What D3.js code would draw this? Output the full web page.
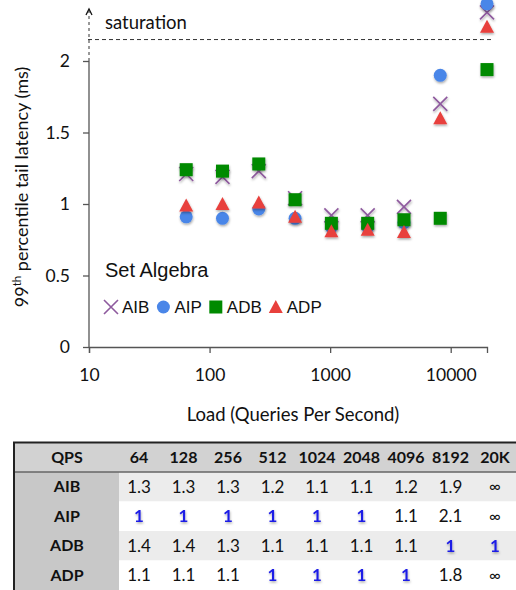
<!DOCTYPE html>
<html>
<head>
<meta charset="utf-8">
<script src="https://cdn.jsdelivr.net/npm/d3@7"></script>
<style>
  body { margin: 0; background: #fff; }
  svg { display: block; font-family: Lato, "Open Sans", sans-serif; }
</style>
</head>
<body>
<div id="chart"></div>
<script>

// data
const qps = [64, 128, 256, 512, 1024, 2048, 4096, 8192, 20000]
const aib = [1.21, 1.19, 1.23, 1.04, 0.92, 0.92, 0.98, 1.70, 2.34]
const aip = [0.91, 0.90, 0.965, 0.90, 0.84, 0.84, 0.87, 1.90, 2.40]
const adb = [1.24, 1.23, 1.28, 1.03, 0.865, 0.865, 0.89, 0.90, 1.94]
const adp = [0.99, 1.00, 1.01, 0.91, 0.81, 0.82, 0.805, 1.60, 2.24]
const saturation = 2.15

const xTicks = [10, 100, 1000, 10000]
const yTicks = [0, 0.5, 1, 1.5, 2]

// table under the chart
const tableCols = ["64", "128", "256", "512", "1024", "2048", "4096", "8192", "20K"]
const tableRows = ["AIB", "AIP", "ADB", "ADP"]
const tableAIB = ["1.3", "1.3", "1.3", "1.2", "1.1", "1.1", "1.2", "1.9", "∞"]
const tableAIP = ["1", "1", "1", "1", "1", "1", "1.1", "2.1", "∞"]
const tableADB = ["1.4", "1.4", "1.3", "1.1", "1.1", "1.1", "1.1", "1", "1"]
const tableADP = ["1.1", "1.1", "1.1", "1", "1", "1", "1", "1.8", "∞"]

const series = [
  {name: "AIB", values: aib, shape: "x", color: "#8e5a9e"},
  {name: "AIP", values: aip, shape: "circle", color: "#4a86e8"},
  {name: "ADB", values: adb, shape: "square", color: "#008a00"},
  {name: "ADP", values: adp, shape: "triangle", color: "#e8403c"}
]

const width = 516, height = 590

const svg = d3.select("#chart").append("svg")
    .attr("width", width)
    .attr("height", height)
    .style("overflow", "visible")

const defs = svg.append("defs")
defs.append("filter").attr("id", "shadow")
    .attr("x", "-50%").attr("y", "-50%").attr("width", "200%").attr("height", "200%")
  .append("feDropShadow")
    .attr("dx", 0.5).attr("dy", 1.5).attr("stdDeviation", 1)
    .attr("flood-color", "#000").attr("flood-opacity", 0.35)

const x = d3.scaleLog()
    .domain([10, 20000])
    .range([89, 487])

const y = d3.scaleLinear()
    .domain([0, 2])
    .range([347, 61])

const axisColor = "#555"

// x axis
const xAxis = d3.axisBottom(x)
    .tickValues(xTicks)
    .tickFormat(d3.format("d"))
    .tickSize(6)
    .tickPadding(16)

const xGroup = svg.append("g")
    .attr("transform", `translate(0, ${y(0)})`)
    .call(xAxis)
xGroup.select(".domain").attr("stroke", axisColor).attr("stroke-width", 1.3)
xGroup.selectAll(".tick line").attr("stroke", axisColor).attr("stroke-width", 1.3)
xGroup.selectAll("text").attr("font-size", 17.5).attr("fill", "#111")
    .attr("font-family", "Lato, sans-serif")

// y axis
const yAxis = d3.axisLeft(y)
    .tickValues(yTicks)
    .tickFormat(d3.format("~g"))
    .tickSize(6)
    .tickPadding(13)

const yGroup = svg.append("g")
    .attr("transform", `translate(${x(10)}, 0)`)
    .call(yAxis)
yGroup.select(".domain").remove()
yGroup.selectAll(".tick line").attr("stroke", axisColor).attr("stroke-width", 1.3)
yGroup.selectAll("text").attr("font-size", 17.5).attr("fill", "#111")
    .attr("font-family", "Lato, sans-serif")

// solid part of the y axis, then dashed arrow above it
svg.append("line")
    .attr("x1", x(10)).attr("x2", x(10))
    .attr("y1", y(0)).attr("y2", y(2))
    .attr("stroke", axisColor).attr("stroke-width", 1.3)

svg.append("line")
    .attr("x1", x(10)).attr("x2", x(10))
    .attr("y1", y(2)).attr("y2", 11)
    .attr("stroke", "#333").attr("stroke-width", 1)
    .attr("stroke-dasharray", "3,3")

svg.append("path")
    .attr("d", `M${x(10) - 3},${15}L${x(10)},${9}L${x(10) + 3},${15}`)
    .attr("fill", "none").attr("stroke", "#111").attr("stroke-width", 1.3)

// saturation line
svg.append("line")
    .attr("x1", x(10) - 1).attr("x2", 493)
    .attr("y1", y(saturation)).attr("y2", y(saturation))
    .attr("stroke", "#333").attr("stroke-width", 1)
    .attr("stroke-dasharray", "4,3")

svg.append("text")
    .attr("x", 105)
    .attr("y", y(saturation) - 11)
    .attr("font-size", 18.5)
    .attr("fill", "#111")
    .text("saturation")

// axis titles
svg.append("text")
    .attr("x", 293)
    .attr("y", 421)
    .attr("text-anchor", "middle")
    .attr("font-size", 18.5)
    .attr("fill", "#111")
    .text("Load (Queries Per Second)")

const yTitle = svg.append("text")
    .attr("transform", "translate(28, 187) rotate(-90)")
    .attr("text-anchor", "middle")
    .attr("font-size", 18)
    .attr("fill", "#111")
yTitle.append("tspan").text("99")
yTitle.append("tspan").attr("font-size", 11.5).attr("dy", -7).text("th")
yTitle.append("tspan").attr("dy", 7).text(" percentile tail latency (ms)")

// marker shapes
function drawMarker(sel, shape, color) {
  if (shape === "x") {
    sel.append("path").attr("d", "M-7,-7L7,7M-7,7L7,-7")
        .attr("stroke", color).attr("stroke-width", 1.6).attr("fill", "none")
  } else if (shape === "circle") {
    sel.append("circle").attr("r", 6.5).attr("fill", color)
  } else if (shape === "square") {
    sel.append("rect").attr("x", -6.5).attr("y", -6.5)
        .attr("width", 13).attr("height", 13).attr("fill", color)
  } else {
    sel.append("path").attr("d", "M0,-7L7,6L-7,6Z").attr("fill", color)
  }
}

// points
series.forEach(s => {
  svg.append("g")
      .attr("class", "series " + s.name)
    .selectAll("g")
    .data(qps.map((q, i) => ({q, v: s.values[i]})))
    .join("g")
      .attr("transform", d => `translate(${x(d.q)}, ${y(d.v)})`)
      .attr("filter", "url(#shadow)")
      .each(function () { drawMarker(d3.select(this), s.shape, s.color) })
})

// legend
svg.append("text")
    .attr("x", 105)
    .attr("y", 277)
    .attr("font-family", "'Liberation Sans', Arial, sans-serif")
    .attr("font-size", 20)
    .attr("fill", "#111")
    .text("Set Algebra")

const legend = svg.append("g").attr("transform", "translate(111, 307)")
let lx = 0
series.forEach(s => {
  const item = legend.append("g").attr("transform", `translate(${lx}, 0)`)
  drawMarker(item.append("g"), s.shape, s.color)
  const t = item.append("text")
      .attr("x", 11)
      .attr("y", 6)
      .attr("font-family", "'Liberation Sans', Arial, sans-serif")
      .attr("font-size", 17)
      .attr("fill", "#111")
      .text(s.name)
  lx += 11 + t.node().getComputedTextLength() + 14
})

// table
const tableTop = 442
const headerH = 30
const rowH = 29.5
const tableValues = [tableAIB, tableAIP, tableADB, tableADP]

const col = d3.scalePoint()
    .domain(tableCols)
    .range([139, 495])

const table = svg.append("g").attr("class", "table")

table.selectAll("rect.row")
    .data(tableRows)
    .join("rect")
      .attr("class", "row")
      .attr("x", 13)
      .attr("y", (d, i) => tableTop + headerH + i * rowH)
      .attr("width", width - 13)
      .attr("height", rowH)
      .attr("fill", (d, i) => i % 2 === 0 ? "#ececec" : "#fff")

table.append("rect")
    .attr("x", 13).attr("y", tableTop + headerH)
    .attr("width", 106).attr("height", rowH * tableRows.length)
    .attr("fill", "#c8c8c8")

table.append("rect")
    .attr("x", 13).attr("y", tableTop)
    .attr("width", width - 13).attr("height", headerH)
    .attr("fill", "#d2d2d2")

table.append("line")
    .attr("x1", 13).attr("x2", width)
    .attr("y1", tableTop + 0.5).attr("y2", tableTop + 0.5)
    .attr("stroke", "#222").attr("stroke-width", 2)

table.append("line")
    .attr("x1", 13).attr("x2", width)
    .attr("y1", tableTop + headerH).attr("y2", tableTop + headerH)
    .attr("stroke", "#666").attr("stroke-width", 1.5)

table.append("line")
    .attr("x1", 14).attr("x2", 14)
    .attr("y1", tableTop).attr("y2", height)
    .attr("stroke", "#222").attr("stroke-width", 2)

table.append("text")
    .attr("x", 67).attr("y", tableTop + headerH / 2)
    .attr("dy", "0.35em")
    .attr("text-anchor", "middle")
    .attr("font-weight", "bold").attr("font-size", 16).attr("fill", "#111")
    .text("QPS")

table.selectAll("text.colhead")
    .data(tableCols)
    .join("text")
      .attr("class", "colhead")
      .attr("x", d => col(d))
      .attr("y", tableTop + headerH / 2)
      .attr("dy", "0.35em")
      .attr("text-anchor", "middle")
      .attr("font-weight", "bold").attr("font-size", 16).attr("fill", "#111")
      .text(d => d)

tableRows.forEach((r, i) => {
  const cy = tableTop + headerH + i * rowH + rowH / 2
  table.append("text")
      .attr("x", 67).attr("y", cy)
      .attr("dy", "0.35em")
      .attr("text-anchor", "middle")
      .attr("font-weight", "bold").attr("font-size", 16).attr("fill", "#111")
      .text(r)

  table.selectAll("text.v" + i)
      .data(tableValues[i])
      .join("text")
        .attr("class", "v" + i)
        .attr("x", (d, j) => col(tableCols[j]))
        .attr("y", cy)
        .attr("dy", "0.35em")
        .attr("text-anchor", "middle")
        .attr("font-size", d => d === "∞" ? 16 : 17)
        .attr("font-weight", d => d === "1" ? "bold" : "normal")
        .attr("fill", d => d === "1" ? "#1a1ae6" : "#111")
        .attr("filter", d => d === "1" ? "url(#shadow)" : null)
        .text(d => d)
})

</script>
</body>
</html>
